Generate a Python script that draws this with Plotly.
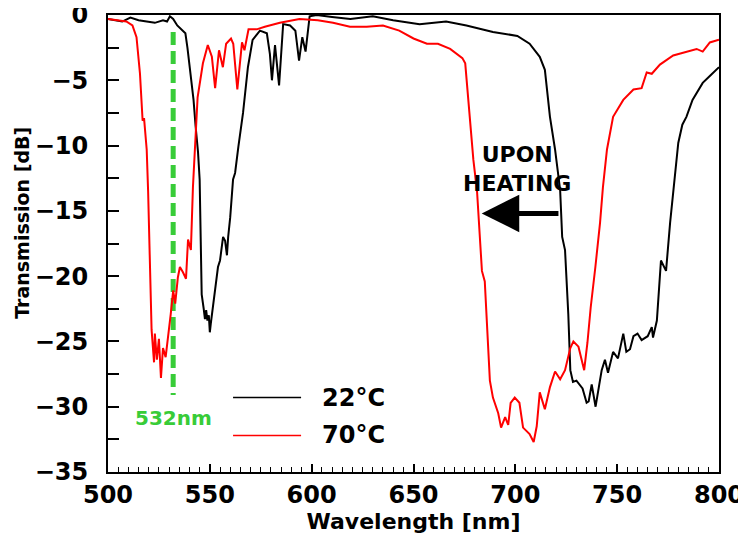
import plotly.graph_objects as go

# 22 °C curve
wl_22 = [500, 503, 507, 511, 515, 519, 523, 527, 529, 530.4, 532, 534, 536, 538, 539, 540, 541, 542, 543,
         544.2, 545, 545.5, 546, 547, 547.6, 548.2, 548.8, 549.5, 550, 550.5, 551.5, 553, 554, 555, 556.5,
         557.5, 558.4, 559, 560, 561.4, 562.4, 564, 566.3, 568.7, 571, 574.6, 578, 579.5, 580.5, 582, 584,
         586, 589.4, 592, 593.8, 595.4, 597, 599, 602.5, 610, 619, 630, 640, 653, 666, 676, 689, 701, 707,
         712, 714.5, 717, 719.5, 722, 723, 724.4, 726, 727, 728.3, 730, 731.7, 733, 735, 736, 737.5, 739.4,
         741, 742.4, 744, 745.5, 748, 750.4, 753, 754.5, 756.3, 758, 760, 762, 765, 767, 767.6, 769.5,
         771.5, 774, 776, 778, 780, 782, 784, 787, 792, 796, 800]
tr_22 = [-0.3, -0.4, -0.5, -0.2, -0.4, -0.5, -0.6, -0.4, -0.5, -0.1, -0.3, -0.8, -1.1, -1.4, -2.5, -3.8, -5.2, -6.5, -8.5,
         -10.5, -12.6, -17, -21.4, -22.5, -23.3, -22.6, -23.4, -23.0, -24.3, -23.6, -22.4, -20.5, -19.3, -18.8, -17,
         -17.3, -18.4, -17.0, -15.5, -12.6, -12.1, -10.1, -7.5, -4, -1.9, -1.2, -1.4, -3, -5, -2.3, -5.4,
         -0.7, -0.8, -1.2, -3.5, -1.7, -2.8, -0.1, 0, -0.15, -0.3, -0.1, -0.4, -0.7, -0.5, -0.8, -1.3, -1.6, -2.2,
         -3.2, -4.2, -7.8, -10.3, -13.4, -17, -18, -22.9, -27.2, -28.1, -28.0, -28.3, -28.6, -29.7, -29.6, -28.3, -30,
         -28.5, -27.2, -26.4, -27.4, -25.8, -26.3, -24.4, -25.8, -25.6, -24.6, -24.4, -24.9, -24.6, -23.9, -24.7, -23.4,
         -18.8, -19.6, -15.9, -12.6, -9.8, -8.4, -7.8, -6.5, -5.2, -4.6, -4.0]

# 70 °C curve
wl_70 = [500, 504, 509, 512, 514, 515.7, 517, 517.7, 519, 519.7, 520.6, 521.4, 522.6, 523, 524, 525, 526, 527,
         528.3, 529.6, 530.8, 532, 533, 534.3, 535.3, 536.8, 538.3, 539.3, 540.7, 541.7, 542.7, 544, 546.6, 549,
         551, 552.6, 554.5, 556.4, 558, 560.4, 561.5, 563.5, 565.8, 567, 569, 573, 577, 584.4, 594, 603, 610.5,
         618.8, 627, 635, 643, 650, 656.6, 662, 668, 674, 675.4, 677, 679.4, 681.2, 683.6, 685, 687.5, 689, 691.6,
         693, 695, 696.5, 697.7, 699.7, 702, 703.8, 707, 709, 710.5, 712, 714.5, 717, 719.5, 722, 724.4, 727,
         728.5, 731, 732.8, 733.8, 735.4, 737, 739.3, 741.6, 743, 745, 748, 753, 758, 762, 764.5, 767, 771,
         777.5, 789, 792, 795.5, 800]
tr_70 = [-0.3, -0.4, -0.5, -0.8, -1.7, -4.5, -8.1, -7.9, -10.3, -13.5, -18.9, -24.1, -26.6, -24.4, -26.4, -24.8, -27.8, -25.5,
         -26.2, -24.7, -22.9, -21.1, -22.1, -20.1, -19.3, -19.7, -20.2, -17.2, -18, -13.2, -10.1, -6.3, -3.7, -2.3,
         -3.2, -5.6, -2.7, -4, -2.2, -1.8, -2.2, -5.7, -2.1, -2.7, -1.1, -1.1, -0.9, -0.6, -0.3, -0.4, -0.6,
         -0.9, -0.9, -0.8, -1.2, -1.8, -2.2, -2.2, -2.6, -3.3, -3.7, -6.5, -11.1, -13.5, -19.6, -20.4, -28, -29.3, -30.5,
         -31.6, -30.8, -31.4, -29.7, -29.3, -29.7, -31.6, -32.1, -32.7, -31.5, -28.9, -30.2, -28.5, -27.3, -27.9, -27.2, -25.5,
         -25, -25.4, -26.6, -27.2, -25.1, -22.4, -19.3, -15.9, -13.2, -10.3, -7.8, -6.5, -5.7, -5.6, -4.4, -4.5, -3.8,
         -3.1, -2.6, -2.8, -2.1, -1.9]

laser_wl = [532, 532]
laser_tr = [-1.3, -29.1]

FONT = "DejaVu Sans"

fig = go.Figure()
fig.add_trace(go.Scatter(x=laser_wl, y=laser_tr, mode="lines",
                         line=dict(color="#38cc38", width=5, dash="13px,6px"),
                         showlegend=False, hoverinfo="skip"))
fig.add_trace(go.Scatter(x=wl_22, y=tr_22, mode="lines", name="22°C",
                         line=dict(color="black", width=2), showlegend=False))
fig.add_trace(go.Scatter(x=wl_70, y=tr_70, mode="lines", name="70°C",
                         line=dict(color="red", width=2), showlegend=False))

# legend drawn in data space
for yy, col, lab in [(-29.3, "black", "22°C"), (-32.2, "red", "70°C")]:
    fig.add_shape(type="line", x0=561.4, x1=594.8, y0=yy, y1=yy, xref="x", yref="y",
                  line=dict(color=col, width=1.5))
    fig.add_annotation(x=604, y=yy, text=lab, showarrow=False, xanchor="left", yanchor="middle",
                       font=dict(family=FONT, size=24, color="black", weight="bold"))

fig.add_annotation(x=532, y=-30.9, text="532nm", showarrow=False, xanchor="center", yanchor="middle",
                   font=dict(family=FONT, size=20, color="#38cc38", weight="bold"))

fig.add_annotation(x=700.8, y=-11.8, text="UPON<br>HEATING", showarrow=False, xanchor="center",
                   yanchor="middle", align="center",
                   font=dict(family=FONT, size=22, color="black", weight="bold"))

fig.add_annotation(x=683.5, y=-15.2, ax=721.9, ay=-15.2, axref="x", ayref="y", xref="x", yref="y",
                   text="", showarrow=True, arrowhead=2, arrowsize=1.5, arrowwidth=5, arrowcolor="black")

# y-axis title (placed slightly above the plot centre, as in the reference)
fig.add_annotation(x=-0.141, y=0.545, xref="paper", yref="paper", text="Transmission [dB]",
                   textangle=-90, showarrow=False, xanchor="center", yanchor="middle",
                   font=dict(family=FONT, size=19, color="black", weight="bold"))

# page body has an 8px margin: size the figure so the plot area lands where the reference has it
fig.update_layout(
    width=738, height=531,
    margin=dict(l=100, r=27, t=7, b=67),
    paper_bgcolor="white", plot_bgcolor="white",
    font=dict(family=FONT, color="black", weight="bold"),
    xaxis=dict(range=[500, 800], tickmode="linear", tick0=500, dtick=50, ticks="inside", ticklen=8,
               tickwidth=1.5, tickcolor="black", showline=True, linecolor="black", linewidth=2, mirror=True,
               showgrid=False, zeroline=False, automargin=False, ticklabeloverflow="allow",
               minor=dict(dtick=5, ticks="inside", ticklen=5, tickwidth=1.2, tickcolor="black", showgrid=False),
               tickfont=dict(family=FONT, size=24, weight="bold"),
               title=dict(text="Wavelength [nm]", font=dict(family=FONT, size=22, weight="bold"), standoff=6)),
    yaxis=dict(range=[-35, 0], tickmode="linear", tick0=0, dtick=5, ticks="inside", ticklen=11,
               tickwidth=1.5, tickcolor="black", showline=True, linecolor="black", linewidth=2, mirror=True,
               showgrid=False, zeroline=False, automargin=False, ticklabeloverflow="allow",
               ticklabelstandoff=13,
               minor=dict(dtick=2.5, ticks="inside", ticklen=11, tickwidth=1.5, tickcolor="black", showgrid=False),
               tickfont=dict(family=FONT, size=24, weight="bold")),
)

fig.write_html("out.html")
